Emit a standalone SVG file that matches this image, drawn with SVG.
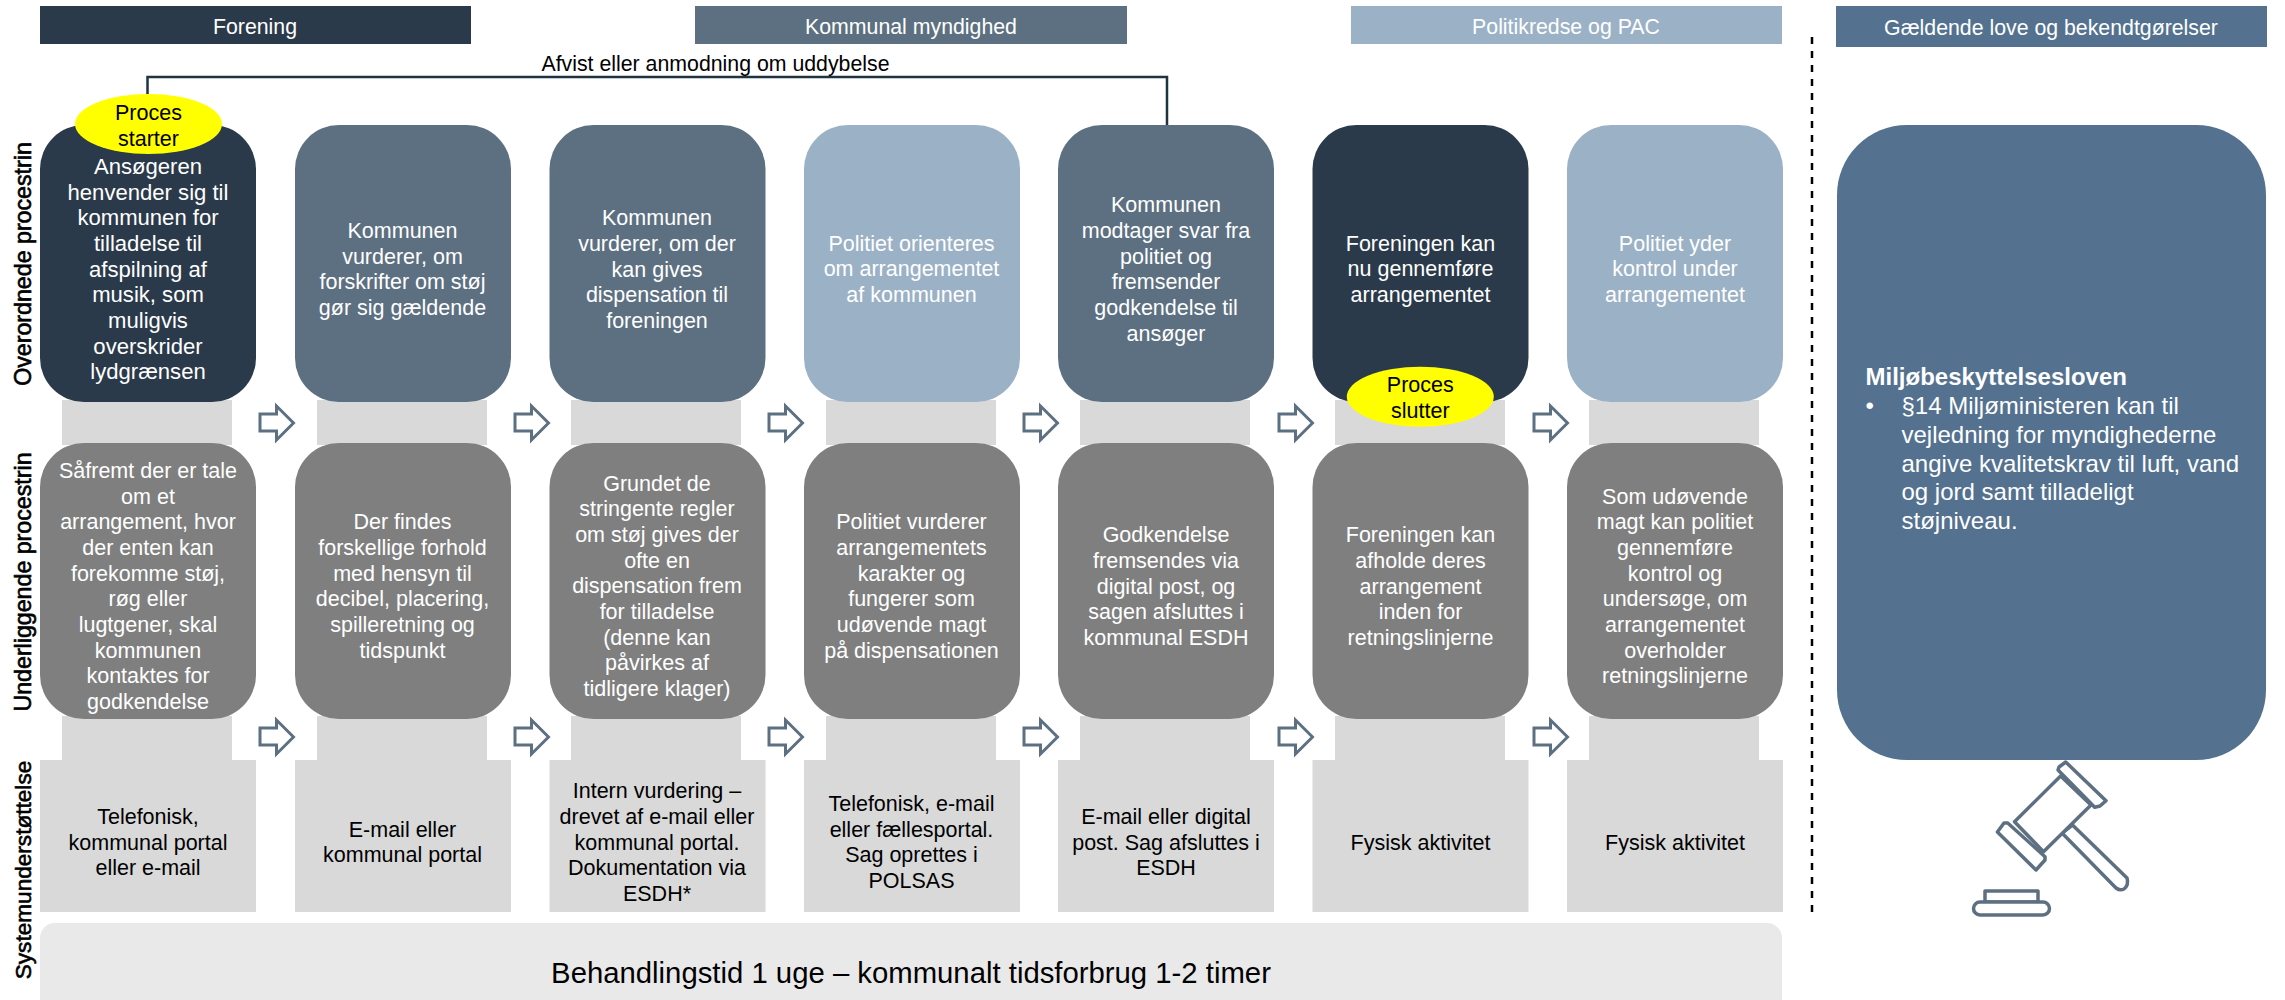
<svg xmlns="http://www.w3.org/2000/svg" width="2285" height="1000" viewBox="0 0 2285 1000">
<style>
text{font-family:"Liberation Sans",Arial,sans-serif;text-anchor:middle}
.t{font-size:21.5px;fill:#fff}
.k{font-size:21.5px;fill:#000}
.h{font-size:21.3px;fill:#fff}
.s{font-size:23.2px;fill:#000;stroke:#000;stroke-width:.6px}
.d{fill:#2b3a4a}.m{fill:#5d7082}.l{fill:#9bb1c6}.g{fill:#7f7f7f}.b{fill:#d9d9d9}
.y{fill:#ff0}
.ar{fill:#fff;stroke:#5d7082;stroke-width:3}
.gv{fill:#fff;stroke:#5d7082;stroke-width:3.5;stroke-linejoin:round}
</style>
<defs>
<rect id="nd" width="216" height="277" rx="44" ry="44"/>
<rect id="nd2" width="216" height="276" rx="44" ry="44"/>
<polygon id="ar" points="0,8 16.5,8 16.5,0 33.5,17 16.5,34 16.5,25 0,25"/>
</defs>
<g id="headers">
<g id="h-forening"><rect class="d" x="40" y="6" width="431" height="38"/><text class="h" x="255" y="34">Forening</text></g>
<g id="h-kommunal"><rect class="m" x="695" y="6" width="432" height="38"/><text class="h" x="911" y="34">Kommunal myndighed</text></g>
<g id="h-politi"><rect class="l" x="1351" y="6" width="431" height="38"/><text class="h" x="1566" y="34">Politikredse og PAC</text></g>
<g id="h-love"><rect fill="#54728f" x="1836" y="6" width="431" height="41"/><text class="h" x="2051" y="35">Gældende love og bekendtgørelser</text></g>
</g>
<g id="strips" fill="#d9d9d9">
<rect x="62" y="400" width="170" height="45"/><rect x="317" y="400" width="170" height="45"/><rect x="571" y="400" width="170" height="45"/><rect x="826" y="400" width="170" height="45"/><rect x="1080" y="400" width="170" height="45"/><rect x="1335" y="400" width="170" height="45"/><rect x="1589" y="400" width="170" height="45"/>
<rect x="62" y="716" width="170" height="46"/><rect x="317" y="716" width="170" height="46"/><rect x="571" y="716" width="170" height="46"/><rect x="826" y="716" width="170" height="46"/><rect x="1080" y="716" width="170" height="46"/><rect x="1335" y="716" width="170" height="46"/><rect x="1589" y="716" width="170" height="46"/>
</g>
<g id="connectors">
<path d="M147.5 97V77H1167V125" fill="none" stroke="#1f3340" stroke-width="2.5"/>
<use href="#ar" class="ar" x="260" y="406"/><use href="#ar" class="ar" x="515" y="406"/><use href="#ar" class="ar" x="769" y="406"/><use href="#ar" class="ar" x="1024" y="406"/><use href="#ar" class="ar" x="1279" y="406"/><use href="#ar" class="ar" x="1534" y="406"/>
<use href="#ar" class="ar" x="260" y="720"/><use href="#ar" class="ar" x="515" y="720"/><use href="#ar" class="ar" x="769" y="720"/><use href="#ar" class="ar" x="1024" y="720"/><use href="#ar" class="ar" x="1279" y="720"/><use href="#ar" class="ar" x="1534" y="720"/>
<line x1="1812" y1="37" x2="1812" y2="913" stroke="#000" stroke-width="2.5" stroke-dasharray="7 7"/>
</g>
<text id="lbl-afvist" class="k" style="font-size:21.3px" x="715.5" y="71">Afvist eller anmodning om uddybelse</text>
<g id="n1"><use href="#nd" class="d" x="40" y="125"/><text class="t" style="font-size:22.1px" y="174"><tspan x="148">Ansøgeren</tspan><tspan x="148" dy="25.67">henvender sig til</tspan><tspan x="148" dy="25.67">kommunen for</tspan><tspan x="148" dy="25.67">tilladelse til</tspan><tspan x="148" dy="25.67">afspilning af</tspan><tspan x="148" dy="25.67">musik, som</tspan><tspan x="148" dy="25.67">muligvis</tspan><tspan x="148" dy="25.67">overskrider</tspan><tspan x="148" dy="25.67">lydgrænsen</tspan></text></g>
<g id="n2"><use href="#nd" class="m" x="295" y="125"/><text class="t" y="238"><tspan x="402.5">Kommunen</tspan><tspan x="402.5" dy="25.67">vurderer, om</tspan><tspan x="402.5" dy="25.67">forskrifter om støj</tspan><tspan x="402.5" dy="25.67">gør sig gældende</tspan></text></g>
<g id="n3"><use href="#nd" class="m" x="549.5" y="125"/><text class="t" y="225.2"><tspan x="657">Kommunen</tspan><tspan x="657" dy="25.67">vurderer, om der</tspan><tspan x="657" dy="25.67">kan gives</tspan><tspan x="657" dy="25.67">dispensation til</tspan><tspan x="657" dy="25.67">foreningen</tspan></text></g>
<g id="n4"><use href="#nd" class="l" x="804" y="125"/><text class="t" y="250.8"><tspan x="911.5">Politiet orienteres</tspan><tspan x="911.5" dy="25.67">om arrangementet</tspan><tspan x="911.5" dy="25.67">af kommunen</tspan></text></g>
<g id="n5"><use href="#nd" class="m" x="1058" y="125"/><text class="t" y="212.3"><tspan x="1166">Kommunen</tspan><tspan x="1166" dy="25.67">modtager svar fra</tspan><tspan x="1166" dy="25.67">politiet og</tspan><tspan x="1166" dy="25.67">fremsender</tspan><tspan x="1166" dy="25.67">godkendelse til</tspan><tspan x="1166" dy="25.67">ansøger</tspan></text></g>
<g id="n6"><use href="#nd" class="d" x="1312.5" y="125"/><text class="t" y="250.8"><tspan x="1420.5">Foreningen kan</tspan><tspan x="1420.5" dy="25.67">nu gennemføre</tspan><tspan x="1420.5" dy="25.67">arrangementet</tspan></text></g>
<g id="n7"><use href="#nd" class="l" x="1567" y="125"/><text class="t" y="250.8"><tspan x="1675">Politiet yder</tspan><tspan x="1675" dy="25.67">kontrol under</tspan><tspan x="1675" dy="25.67">arrangementet</tspan></text></g>
<g id="u1"><use href="#nd2" class="g" x="40" y="443"/><text class="t" y="478"><tspan x="148">Såfremt der er tale</tspan><tspan x="148" dy="25.67">om et</tspan><tspan x="148" dy="25.67">arrangement, hvor</tspan><tspan x="148" dy="25.67">der enten kan</tspan><tspan x="148" dy="25.67">forekomme støj,</tspan><tspan x="148" dy="25.67">røg eller</tspan><tspan x="148" dy="25.67">lugtgener, skal</tspan><tspan x="148" dy="25.67">kommunen</tspan><tspan x="148" dy="25.67">kontaktes for</tspan><tspan x="148" dy="25.67">godkendelse</tspan></text></g>
<g id="u2"><use href="#nd2" class="g" x="295" y="443"/><text class="t" y="529.3"><tspan x="402.5">Der findes</tspan><tspan x="402.5" dy="25.67">forskellige forhold</tspan><tspan x="402.5" dy="25.67">med hensyn til</tspan><tspan x="402.5" dy="25.67">decibel, placering,</tspan><tspan x="402.5" dy="25.67">spilleretning og</tspan><tspan x="402.5" dy="25.67">tidspunkt</tspan></text></g>
<g id="u3"><use href="#nd2" class="g" x="549.5" y="443"/><text class="t" y="490.8"><tspan x="657">Grundet de</tspan><tspan x="657" dy="25.67">stringente regler</tspan><tspan x="657" dy="25.67">om støj gives der</tspan><tspan x="657" dy="25.67">ofte en</tspan><tspan x="657" dy="25.67">dispensation frem</tspan><tspan x="657" dy="25.67">for tilladelse</tspan><tspan x="657" dy="25.67">(denne kan</tspan><tspan x="657" dy="25.67">påvirkes af</tspan><tspan x="657" dy="25.67">tidligere klager)</tspan></text></g>
<g id="u4"><use href="#nd2" class="g" x="804" y="443"/><text class="t" y="529.3"><tspan x="911.5">Politiet vurderer</tspan><tspan x="911.5" dy="25.67">arrangementets</tspan><tspan x="911.5" dy="25.67">karakter og</tspan><tspan x="911.5" dy="25.67">fungerer som</tspan><tspan x="911.5" dy="25.67">udøvende magt</tspan><tspan x="911.5" dy="25.67">på dispensationen</tspan></text></g>
<g id="u5"><use href="#nd2" class="g" x="1058" y="443"/><text class="t" y="542.2"><tspan x="1166">Godkendelse</tspan><tspan x="1166" dy="25.67">fremsendes via</tspan><tspan x="1166" dy="25.67">digital post, og</tspan><tspan x="1166" dy="25.67">sagen afsluttes i</tspan><tspan x="1166" dy="25.67">kommunal ESDH</tspan></text></g>
<g id="u6"><use href="#nd2" class="g" x="1312.5" y="443"/><text class="t" y="542.2"><tspan x="1420.5">Foreningen kan</tspan><tspan x="1420.5" dy="25.67">afholde deres</tspan><tspan x="1420.5" dy="25.67">arrangement</tspan><tspan x="1420.5" dy="25.67">inden for</tspan><tspan x="1420.5" dy="25.67">retningslinjerne</tspan></text></g>
<g id="u7"><use href="#nd2" class="g" x="1567" y="443"/><text class="t" y="503.7"><tspan x="1675">Som udøvende</tspan><tspan x="1675" dy="25.67">magt kan politiet</tspan><tspan x="1675" dy="25.67">gennemføre</tspan><tspan x="1675" dy="25.67">kontrol og</tspan><tspan x="1675" dy="25.67">undersøge, om</tspan><tspan x="1675" dy="25.67">arrangementet</tspan><tspan x="1675" dy="25.67">overholder</tspan><tspan x="1675" dy="25.67">retningslinjerne</tspan></text></g>
<g id="s1"><rect class="b" x="40" y="760" width="216" height="152"/><text class="k" y="824"><tspan x="148">Telefonisk,</tspan><tspan x="148" dy="25.67">kommunal portal</tspan><tspan x="148" dy="25.67">eller e-mail</tspan></text></g>
<g id="s2"><rect class="b" x="295" y="760" width="216" height="152"/><text class="k" y="836.7"><tspan x="402.5">E-mail eller</tspan><tspan x="402.5" dy="25.67">kommunal portal</tspan></text></g>
<g id="s3"><rect class="b" x="549.5" y="760" width="216" height="152"/><text class="k" y="798.2"><tspan x="657">Intern vurdering –</tspan><tspan x="657" dy="25.67">drevet af e-mail eller</tspan><tspan x="657" dy="25.67">kommunal portal.</tspan><tspan x="657" dy="25.67">Dokumentation via</tspan><tspan x="657" dy="25.67">ESDH*</tspan></text></g>
<g id="s4"><rect class="b" x="804" y="760" width="216" height="152"/><text class="k" y="811"><tspan x="911.5">Telefonisk, e-mail</tspan><tspan x="911.5" dy="25.67">eller fællesportal.</tspan><tspan x="911.5" dy="25.67">Sag oprettes i</tspan><tspan x="911.5" dy="25.67">POLSAS</tspan></text></g>
<g id="s5"><rect class="b" x="1058" y="760" width="216" height="152"/><text class="k" y="824"><tspan x="1166">E-mail eller digital</tspan><tspan x="1166" dy="25.67">post. Sag afsluttes i</tspan><tspan x="1166" dy="25.67">ESDH</tspan></text></g>
<g id="s6"><rect class="b" x="1312.5" y="760" width="216" height="152"/><text class="k" x="1420.5" y="849.5">Fysisk aktivitet</text></g>
<g id="s7"><rect class="b" x="1567" y="760" width="216" height="152"/><text class="k" x="1675" y="849.5">Fysisk aktivitet</text></g>
<g id="start"><ellipse class="y" cx="148.5" cy="124" rx="73.5" ry="30"/><text class="k" y="120"><tspan x="148.5">Proces</tspan><tspan x="148.5" dy="25.5">starter</tspan></text></g>
<g id="slut"><ellipse class="y" cx="1420.3" cy="396.7" rx="73.5" ry="30"/><text class="k" y="392"><tspan x="1420.3">Proces</tspan><tspan x="1420.3" dy="25.7">slutter</tspan></text></g>
<g id="behandling"><rect fill="#e9e9e9" x="40" y="923" width="1742" height="90" rx="15"/><text x="911" y="983" font-size="29.3" fill="#000">Behandlingstid 1 uge – kommunalt tidsforbrug 1-2 timer</text></g>
<g id="side-labels">
<text class="s" transform="translate(31 264) rotate(-90)">Overordnede procestrin</text>
<text class="s" transform="translate(31 582) rotate(-90)">Underliggende procestrin</text>
<text class="s" style="font-size:22.6px" transform="translate(31 870) rotate(-90)">Systemunderstøttelse</text>
</g>
<g id="love">
<rect fill="#54728f" x="1837" y="125" width="429" height="635" rx="70"/>
<text font-size="24" font-weight="bold" fill="#fff" x="1865.5" y="385" style="text-anchor:start">Miljøbeskyttelsesloven</text>
<text font-size="24" fill="#fff" x="1865.5" y="414" style="text-anchor:start">•</text>
<text font-size="24" fill="#fff" y="414" style="text-anchor:start"><tspan x="1901.5">§14 Miljøministeren kan til</tspan><tspan x="1901.5" dy="28.8">vejledning for myndighederne</tspan><tspan x="1901.5" dy="28.8">angive kvalitetskrav til luft, vand</tspan><tspan x="1901.5" dy="28.8">og jord samt tilladeligt</tspan><tspan x="1901.5" dy="28.8">støjniveau.</tspan></text>
</g>
<g id="gavel" class="gv">
<path d="M2072.5 825L2127 878Q2129 885 2124 889Q2120 891 2116 888L2062 833Z"/>
<polygon points="2060.6,776 2014.5,821.7 2043.5,851.7 2091,805"/>
<polygon points="2065.7,762 2106,800.7 2100,806 2094.7,807.3 2058,770 2059,767"/>
<polygon points="2007.7,823 2045,856.7 2045,860 2036,870 1997.4,832 2004,823"/>
<rect x="1985" y="891" width="53" height="11"/>
<rect x="1973.5" y="902" width="76" height="13" rx="6.5"/>
</g>
</svg>
